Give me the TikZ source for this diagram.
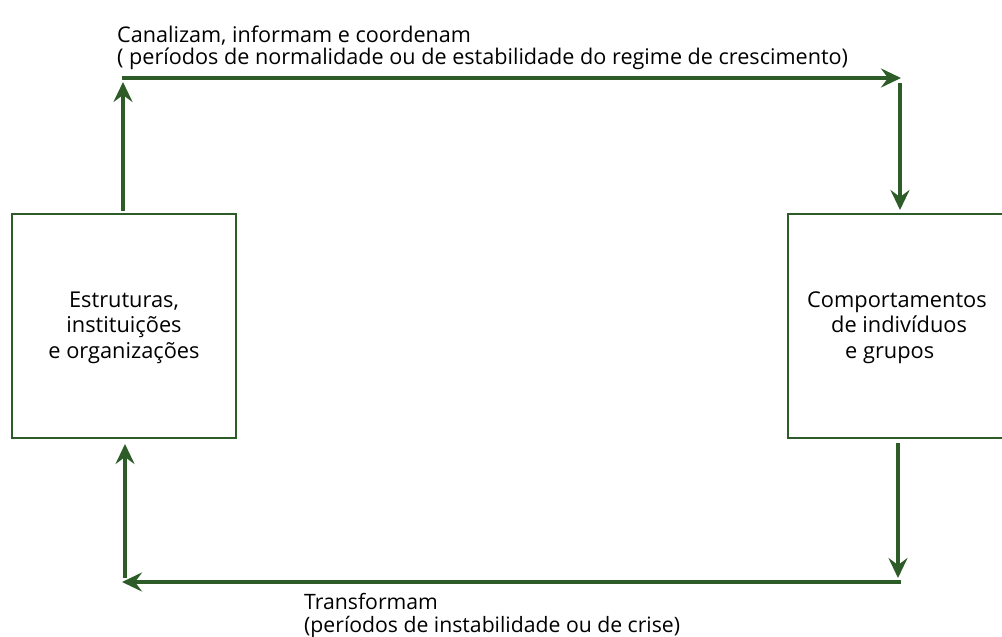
\documentclass[tikz,border=0pt]{standalone}
\usepackage{fontspec}
\setmainfont{Open Sans}
\usetikzlibrary{arrows.meta}
\definecolor{dgreen}{RGB}{46,92,40}
\tikzset{
  boxnode/.style={draw=dgreen, line width=2.6pt, fill=none, inner sep=0pt},
  arr/.style={draw=dgreen, line width=3.6pt, -{Stealth[length=20pt, width=19pt, inset=7pt]}},
  lbl/.style={anchor=north west, align=left, inner sep=0pt, font=\fontsize{21.2}{22.5}\selectfont},
  toplbl/.style={lbl, font=\fontsize{21.6}{22.5}\selectfont},
  boxtxt/.style={font=\fontsize{21.8}{25.5}\selectfont, inner sep=0pt}
}
\begin{document}
\begin{tikzpicture}[x=1pt,y=-1pt]
\useasboundingbox (0,0) rectangle (1002,637);
% boxes
\node[boxnode, minimum width=224pt, minimum height=224pt] (L) at (124,326) {};
\node[boxnode, minimum width=236pt, minimum height=224pt] (R) at (906,326) {};
\node[boxtxt, align=center] (Ltxt) at (124,327.5) {Estruturas,\\instituições\\e organizações};
\node[boxtxt, align=left, anchor=west] (Rtxt) at (807,327.5) {Comportamentos\\\hspace{24pt}de indivíduos\\\hspace{38pt}e grupos};
% corner coordinates
\coordinate (tl1) at (123,211);
\coordinate (tl2) at (123,82);
\coordinate (th1) at (122,78);
\coordinate (th2) at (901,78);
\coordinate (tr1) at (900,83);
\coordinate (tr2) at (900,210);
\coordinate (br1) at (898,443);
\coordinate (br2) at (898,578);
\coordinate (bh1) at (901,582);
\coordinate (bh2) at (122,582);
\coordinate (bl1) at (125,578);
\coordinate (bl2) at (125,444);
\draw[arr] (tl1) -- (tl2);
\draw[arr] (th1) -- (th2);
\draw[arr] (tr1) -- (tr2);
\draw[arr] (br1) -- (br2);
\draw[arr] (bh1) -- (bh2);
\draw[arr] (bl1) -- (bl2);
% labels
\node[toplbl] (top) at (117,25.5) {Canalizam, informam e coordenam\\( períodos de normalidade ou de estabilidade do regime de crescimento)};
\node[lbl] (bot) at (304,593.3) {Transformam\\(períodos de instabilidade ou de crise)};
\end{tikzpicture}
\end{document}
